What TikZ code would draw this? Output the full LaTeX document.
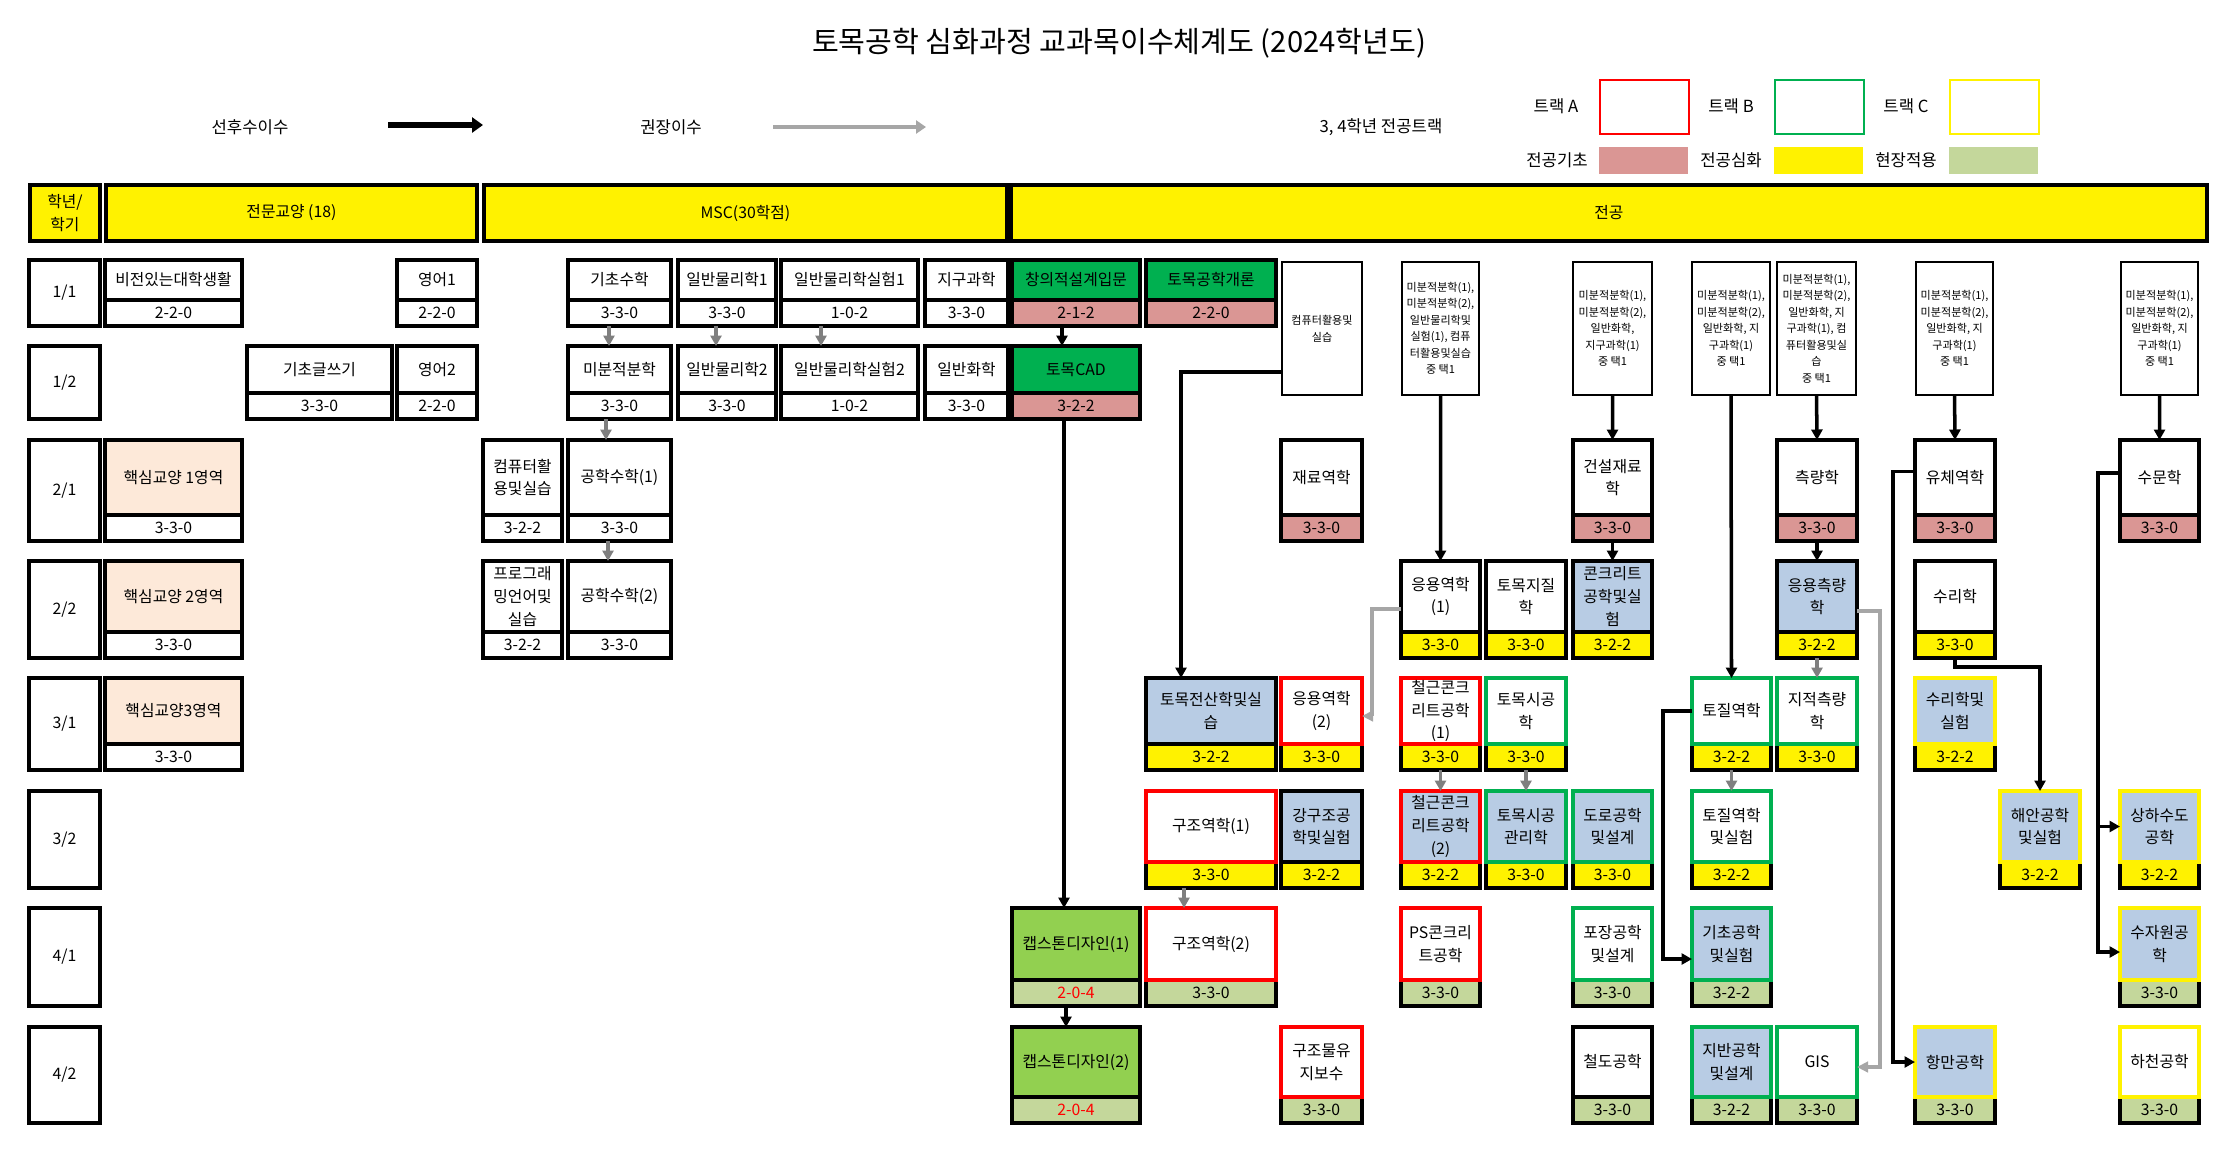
\documentclass[tikz,border=0pt]{standalone}
\usepackage{fontspec}
\setmainfont{Noto Sans CJK KR}
\usetikzlibrary{arrows.meta}

\definecolor{introgreen}{HTML}{00B050}
\definecolor{capgreen}{HTML}{92D050}
\definecolor{labblue}{HTML}{B8CCE4}
\definecolor{basepink}{HTML}{DA9694}
\definecolor{fieldolive}{HTML}{C4D79B}
\definecolor{corepeach}{HTML}{FDE9D9}
\definecolor{recgray}{HTML}{7F7F7F}
\definecolor{reclight}{HTML}{A6A6A6}

\tikzset{
  box/.style={draw, line width=2.2pt, inner sep=0pt, outer sep=0pt, align=center, font=\fontsize{9}{13}\selectfont},
  cname/.style={box, fill=white},
  cred/.style={box, fill=white, minimum height=0.52cm},
  rowlab/.style={box, fill=white, minimum width=1.42cm, anchor=north west},
  head/.style={box, fill=yellow, minimum height=1.12cm, anchor=north west},
  note/.style={draw, line width=1.1pt, fill=white, inner sep=0pt, outer sep=0pt, align=center, anchor=north west, minimum height=2.66cm, font=\fontsize{6.3}{9.4}\selectfont},
  legend/.style={font=\fontsize{9.5}{12}\selectfont},
  trackA/.style={draw=red}, trackB/.style={draw=introgreen}, trackC/.style={draw=yellow},
  introC/.style={fill=introgreen}, capC/.style={fill=capgreen}, labC/.style={fill=labblue}, coreC/.style={fill=corepeach},
  baseC/.style={fill=basepink}, deepC/.style={fill=yellow}, fieldC/.style={fill=fieldolive},
  req/.style={line width=2pt, -{Triangle[length=0.21cm,width=0.22cm]}},
  rec/.style={line width=2pt, color=recgray, -{Triangle[length=0.21cm,width=0.22cm]}},
  reclt/.style={line width=1.8pt, color=reclight, -{Triangle[length=0.22cm,width=0.21cm]}}
}

% #1 name, #2 x left, #3 x right, #4 y top, #5 y bottom, #6 course, #7 credits, #8 course style, #9 credit style
\newcommand{\course}[9]{%
  \node[cred, #9, minimum width={(#3-#2)*0.02cm}, anchor=south west] (#1-c) at (#2,#5) {#7};
  \node[cname, #8, minimum width={(#3-#2)*0.02cm}, minimum height={(#5-#4-26)*0.02cm}, anchor=south west] (#1) at (#1-c.north west) {#6};
}

\begin{document}
\begin{tikzpicture}[x=0.02cm, y=-0.02cm]
\fill[white] (0,0) rectangle (2240,1157);
\useasboundingbox (0,0) rectangle (2240,1157);

\node[font=\fontsize{16.6}{19}\selectfont] (title) at (1119,43) {토목공학 심화과정 교과목이수체계도 (2024학년도)};

% legend
\node[legend] (lreq) at (250,127) {선후수이수};
\coordinate (lreqa) at (388,125);
\coordinate (lreqb) at (483,125);
\draw[req, line width=3.2pt, -{Triangle[length=0.22cm,width=0.3cm]}] (lreqa) -- (lreqb);
\node[legend] (lrec) at (671,127) {권장이수};
\coordinate (lreca) at (773,127);
\coordinate (lrecb) at (926,127);
\draw[reclt, line width=2.4pt, -{Triangle[length=0.2cm,width=0.26cm]}] (lreca) -- (lrecb);
\node[legend] (ltrack) at (1381,127) {3, 4학년 전공트랙};

\node[legend] (lA) at (1556,106) {트랙 A};
\node[draw=red, line width=1.4pt, minimum width=1.78cm, minimum height=1.08cm, anchor=north west] (lAbox) at (1599,79) {};
\node[legend] (lB) at (1731,106) {트랙 B};
\node[draw=introgreen, line width=1.4pt, minimum width=1.78cm, minimum height=1.08cm, anchor=north west] (lBbox) at (1774,79) {};
\node[legend] (lC) at (1906,106) {트랙 C};
\node[draw=yellow, line width=1.4pt, minimum width=1.78cm, minimum height=1.08cm, anchor=north west] (lCbox) at (1949,79) {};

\node[legend] (lbase) at (1557,160) {전공기초};
\node[fill=basepink, minimum width=1.78cm, minimum height=0.54cm, anchor=north west] (lbasebox) at (1599,147) {};
\node[legend] (ldeep) at (1731,160) {전공심화};
\node[fill=yellow, minimum width=1.78cm, minimum height=0.54cm, anchor=north west] (ldeepbox) at (1774,147) {};
\node[legend] (lfield) at (1906,160) {현장적용};
\node[fill=fieldolive, minimum width=1.78cm, minimum height=0.54cm, anchor=north west] (lfieldbox) at (1949,147) {};

% header
\node[head, minimum width=1.4cm] (hd0) at (30,185) {학년/\\학기};
\node[head, minimum width=7.42cm] (hd1) at (106,185) {전문교양 (18)};
\node[head, minimum width=10.46cm] (hd2) at (484,185) {MSC(30학점)};
\node[head, minimum width=23.92cm] (hd3) at (1011,185) {전공};

% semesters
\node[rowlab, minimum height=1.32cm] (r11) at (29,260) {1/1};
\node[rowlab, minimum height=1.46cm] (r12) at (29,346) {1/2};
\node[rowlab, minimum height=2.02cm] (r21) at (29,440) {2/1};
\node[rowlab, minimum height=1.94cm] (r22) at (29,561) {2/2};
\node[rowlab, minimum height=1.84cm] (r31) at (29,678) {3/1};
\node[rowlab, minimum height=1.94cm] (r32) at (29,791) {3/2};
\node[rowlab, minimum height=1.96cm] (r41) at (29,908) {4/1};
\node[rowlab, minimum height=1.92cm] (r42) at (29,1027) {4/2};

% 1/1
\course{vision}{105}{242}{260}{326}{비전있는대학생활}{2-2-0}{}{}
\course{eng1}{397}{477}{260}{326}{영어1}{2-2-0}{}{}
\course{bmath}{568}{671}{260}{326}{기초수학}{3-3-0}{}{}
\course{phy1}{678}{776}{260}{326}{일반물리학1}{3-3-0}{}{}
\course{phylab1}{781}{918}{260}{326}{일반물리학실험1}{1-0-2}{}{}
\course{earth}{925}{1008}{260}{326}{지구과학}{3-3-0}{}{}
\course{design}{1012}{1140}{260}{326}{창의적설계입문}{2-1-2}{introC}{baseC}
\course{civintro}{1146}{1276}{260}{326}{토목공학개론}{2-2-0}{introC}{baseC}
% 1/2
\course{writing}{247}{392}{346}{419}{기초글쓰기}{3-3-0}{}{}
\course{eng2}{397}{477}{346}{419}{영어2}{2-2-0}{}{}
\course{calc}{568}{671}{346}{419}{미분적분학}{3-3-0}{}{}
\course{phy2}{678}{776}{346}{419}{일반물리학2}{3-3-0}{}{}
\course{phylab2}{781}{918}{346}{419}{일반물리학실험2}{1-0-2}{}{}
\course{chem}{925}{1008}{346}{419}{일반화학}{3-3-0}{}{}
\course{cad}{1012}{1140}{346}{419}{토목CAD}{3-2-2}{introC}{baseC}
% 2/1
\course{core1}{105}{242}{440}{541}{핵심교양 1영역}{3-3-0}{coreC}{}
\course{comp}{483}{562}{440}{541}{컴퓨터활\\용및실습}{3-2-2}{}{}
\course{emath1}{568}{671}{440}{541}{공학수학(1)}{3-3-0}{}{}
\course{matmech}{1281}{1362}{440}{541}{재료역학}{3-3-0}{}{baseC}
\course{constmat}{1573}{1652}{440}{541}{건설재료\\학}{3-3-0}{}{baseC}
\course{survey}{1777}{1857}{440}{541}{측량학}{3-3-0}{}{baseC}
\course{fluid}{1915}{1995}{440}{541}{유체역학}{3-3-0}{}{baseC}
\course{hydro}{2120}{2199}{440}{541}{수문학}{3-3-0}{}{baseC}
% 2/2
\course{core2}{105}{242}{561}{658}{핵심교양 2영역}{3-3-0}{coreC}{}
\course{prog}{483}{562}{561}{658}{프로그래\\밍언어및\\실습}{3-2-2}{}{}
\course{emath2}{568}{671}{561}{658}{공학수학(2)}{3-3-0}{}{}
\course{amech1}{1401}{1480}{561}{658}{응용역학\\(1)}{3-3-0}{}{deepC}
\course{geol}{1486}{1566}{561}{658}{토목지질\\학}{3-3-0}{}{deepC}
\course{conclab}{1573}{1652}{561}{658}{콘크리트\\공학및실\\험}{3-2-2}{labC}{deepC}
\course{asurvey}{1777}{1857}{561}{658}{응용측량\\학}{3-2-2}{labC}{deepC}
\course{hydraul}{1915}{1995}{561}{658}{수리학}{3-3-0}{}{deepC}
% 3/1
\course{core3}{105}{242}{678}{770}{핵심교양3영역}{3-3-0}{coreC}{}
\course{civcomp}{1146}{1276}{678}{770}{토목전산학및실\\습}{3-2-2}{labC}{deepC}
\course{amech2}{1281}{1362}{678}{770}{응용역학\\(2)}{3-3-0}{trackA}{deepC}
\course{rc1}{1401}{1480}{678}{770}{철근콘크\\리트공학\\(1)}{3-3-0}{trackA}{deepC}
\course{constr}{1486}{1566}{678}{770}{토목시공\\학}{3-3-0}{trackB}{deepC}
\course{soil}{1692}{1771}{678}{770}{토질역학}{3-2-2}{trackB}{deepC}
\course{cadastral}{1777}{1857}{678}{770}{지적측량\\학}{3-3-0}{trackB}{deepC}
\course{hydrlab}{1915}{1995}{678}{770}{수리학및\\실험}{3-2-2}{labC,trackC}{deepC}
% 3/2
\course{struct1}{1146}{1276}{791}{888}{구조역학(1)}{3-3-0}{trackA}{deepC}
\course{steel}{1281}{1362}{791}{888}{강구조공\\학및실험}{3-2-2}{labC}{deepC}
\course{rc2}{1401}{1480}{791}{888}{철근콘크\\리트공학\\(2)}{3-2-2}{labC,trackA}{deepC}
\course{constmgmt}{1486}{1566}{791}{888}{토목시공\\관리학}{3-3-0}{labC,trackB}{deepC}
\course{road}{1573}{1652}{791}{888}{도로공학\\및설계}{3-3-0}{labC,trackB}{deepC}
\course{soillab}{1692}{1771}{791}{888}{토질역학\\및실험}{3-2-2}{trackB}{deepC}
\course{coast}{2000}{2080}{791}{888}{해안공학\\및실험}{3-2-2}{labC,trackC}{deepC}
\course{water}{2120}{2199}{791}{888}{상하수도\\공학}{3-2-2}{labC,trackC}{deepC}
% 4/1
\course{caps1}{1012}{1140}{908}{1006}{캡스톤디자인(1)}{2-0-4}{capC}{fieldC,text=red}
\course{struct2}{1146}{1276}{908}{1006}{구조역학(2)}{3-3-0}{trackA}{fieldC}
\course{psc}{1401}{1480}{908}{1006}{PS콘크리\\트공학}{3-3-0}{trackA}{fieldC}
\course{pave}{1573}{1652}{908}{1006}{포장공학\\및설계}{3-3-0}{trackB}{fieldC}
\course{found}{1692}{1771}{908}{1006}{기초공학\\및실험}{3-2-2}{labC,trackB}{fieldC}
\course{wres}{2120}{2199}{908}{1006}{수자원공\\학}{3-3-0}{labC,trackC}{fieldC}
% 4/2
\course{caps2}{1012}{1140}{1027}{1123}{캡스톤디자인(2)}{2-0-4}{capC}{fieldC,text=red}
\course{maint}{1281}{1362}{1027}{1123}{구조물유\\지보수}{3-3-0}{trackA}{fieldC}
\course{rail}{1573}{1652}{1027}{1123}{철도공학}{3-3-0}{}{fieldC}
\course{geotech}{1692}{1771}{1027}{1123}{지반공학\\및설계}{3-2-2}{labC,trackB}{fieldC}
\course{gis}{1777}{1857}{1027}{1123}{GIS}{3-3-0}{trackB}{fieldC}
\course{harbor}{1915}{1995}{1027}{1123}{항만공학}{3-3-0}{labC,trackC}{fieldC}
\course{river}{2120}{2199}{1027}{1123}{하천공학}{3-3-0}{trackC}{fieldC}

% prerequisite notes
\node[note, minimum width=1.6cm] (pre1) at (1282,262) {컴퓨터활용및\\실습};
\node[note, minimum width=1.54cm] (pre2) at (1402,262) {미분적분학(1),\\미분적분학(2),\\일반물리학및\\실험(1), 컴퓨\\터활용및실습\\중 택1};
\node[note, minimum width=1.58cm] (pre3) at (1573,262) {미분적분학(1),\\미분적분학(2),\\일반화학,\\지구과학(1)\\중 택1};
\node[note, minimum width=1.56cm] (pre4) at (1692,262) {미분적분학(1),\\미분적분학(2),\\일반화학, 지\\구과학(1)\\중 택1};
\node[note, minimum width=1.58cm] (pre5) at (1777,262) {미분적분학(1),\\미분적분학(2),\\일반화학, 지\\구과학(1), 컴\\퓨터활용및실\\습\\중 택1};
\node[note, minimum width=1.54cm] (pre6) at (1916,262) {미분적분학(1),\\미분적분학(2),\\일반화학, 지\\구과학(1)\\중 택1};
\node[note, minimum width=1.54cm] (pre7) at (2121,262) {미분적분학(1),\\미분적분학(2),\\일반화학, 지\\구과학(1)\\중 택1};

% 선후수이수
\draw[req] ([xshift=-0.28cm]design-c.south) -- ([xshift=-0.28cm]cad.north);
\draw[req] ([xshift=-0.24cm]cad-c.south) -- ([xshift=-0.24cm]caps1.north);
\draw[req] ([xshift=-0.2cm]caps1-c.south) -- ([xshift=-0.2cm]caps2.north);
\draw[req] ([yshift=-0.87cm]pre1.west) -| ([xshift=-0.6cm]civcomp.north);
\draw[req] (pre2.south) -- (amech1.north);
\draw[req] (pre3.south) -- (constmat.north);
\draw[req] (constmat-c.south) -- (conclab.north);
\draw[req] (pre4.south) -- (soil.north);
\draw[req] (pre5.south) -- (survey.north);
\draw[req] (survey-c.south) -- (asurvey.north);
\draw[req] (pre6.south) -- (fluid.north);
\draw[req] (pre7.south) -- (hydro.north);
\draw[req] ([yshift=0.12cm]fluid.west) -- ++(-0.44cm,0) |- (harbor.west);
\draw[req] (hydraul-c.south) -- ++(0,-0.18cm) -| (coast.north);
\draw[req] ([yshift=0.09cm]hydro.west) -- ++(-0.44cm,0) |- (water.west);
\draw[req] ([yshift=0.09cm]hydro.west) -- ++(-0.44cm,0) |- ([yshift=-0.16cm]wres.west);
\draw[req] (soil.west) -- ++(-0.58cm,0) |- ([yshift=-0.3cm]found.west);

% 권장이수
\draw[rec] ([xshift=-0.21cm]bmath-c.south) -- ([xshift=-0.21cm]calc.north);
\draw[rec] ([xshift=-0.22cm]phy1-c.south) -- ([xshift=-0.22cm]phy2.north);
\draw[rec] ([xshift=-0.57cm]phylab1-c.south) -- ([xshift=-0.57cm]phylab2.north);
\draw[rec] ([xshift=-0.27cm]calc-c.south) -- ([xshift=-0.27cm]emath1.north);
\draw[rec] ([xshift=-0.23cm]emath1-c.south) -- ([xshift=-0.23cm]emath2.north);
\draw[rec] (rc1-c.south) -- (rc2.north);
\draw[rec] (constr-c.south) -- (constmgmt.north);
\draw[rec] ([xshift=-0.54cm]struct1-c.south) -- ([xshift=-0.54cm]struct2.north);
\draw[rec] (asurvey-c.south) -- (cadastral.north);
\draw[rec] (soil-c.south) -- (soillab.north);
\draw[reclt] ([yshift=-0.25cm]amech1.west) -- ++(-0.58cm,0) |- ([yshift=-0.1cm]amech2.east);
\draw[reclt] ([yshift=-0.29cm]asurvey.east) -- ++(0.46cm,0) |- ([yshift=-0.1cm]gis.east);
\end{tikzpicture}
\end{document}
